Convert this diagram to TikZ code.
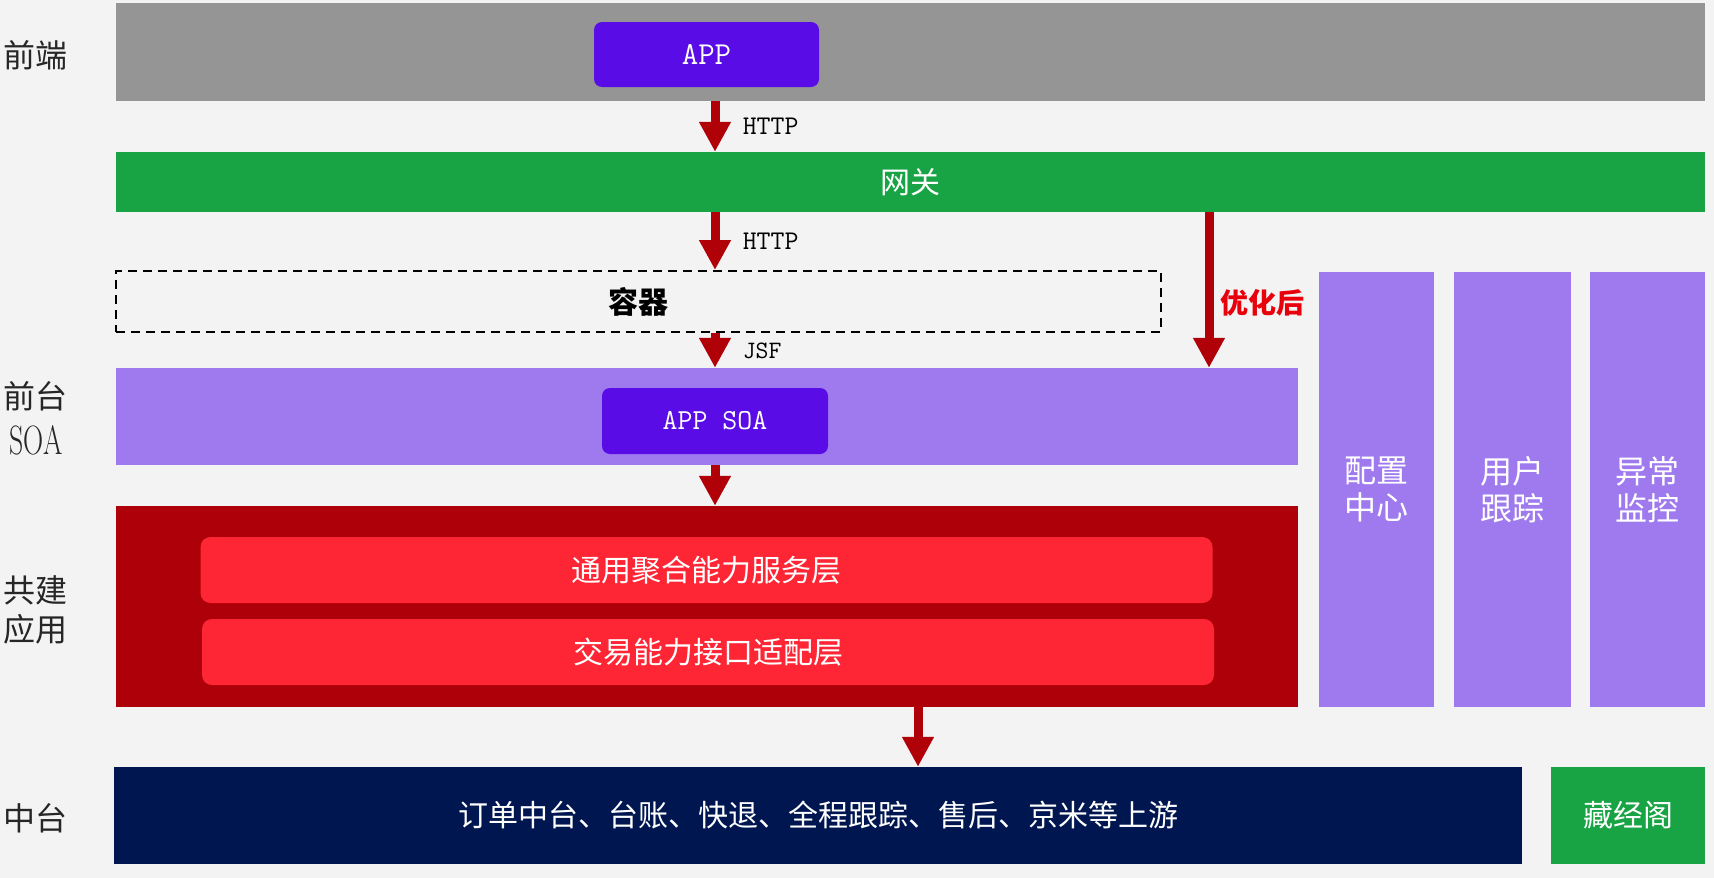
\documentclass[tikz,border=0pt]{standalone}
\usepackage{fontspec}
\newfontfamily\cjk{Noto Sans CJK SC}
\usetikzlibrary{positioning,arrows.meta}

\definecolor{pagebg}{HTML}{F3F3F4}
\definecolor{frontgray}{HTML}{959595}
\definecolor{appviolet}{HTML}{5A0CE6}
\definecolor{gwgreen}{HTML}{18A444}
\definecolor{soapurple}{HTML}{9F7AEE}
\definecolor{sharedred}{HTML}{AE0008}
\definecolor{layerred}{HTML}{FE2634}
\definecolor{midnavy}{HTML}{001650}
\definecolor{arrowred}{HTML}{B00008}
\definecolor{notered}{HTML}{E8000B}

\begin{document}
\begin{tikzpicture}[
      x=1pt, y=-1pt,
      font=\cjk\fontsize{30}{36}\selectfont,
      band/.style={inner sep=0pt, minimum width=#1},
      boxapp/.style={fill=appviolet, rounded corners=8pt, inner sep=0pt,
                     minimum width=225pt, minimum height=65pt, text=white,
                     font=\ttfamily\fontsize{32}{38}\selectfont},
      layer/.style={fill=layerred, rounded corners=10pt, inner sep=0pt,
                    minimum width=1012pt, minimum height=66pt, text=white},
      pillar/.style={fill=soapurple, inner sep=0pt, minimum width=116pt,
                     minimum height=435pt, text=white, align=center,
                     font=\cjk\fontsize{32}{37}\selectfont},
      side/.style={align=center, text=black!85},
      flow/.style={draw=arrowred, line width=9pt,
                   -{Triangle[length=30pt,width=30pt]}},
      lbl/.style={font=\ttfamily\fontsize{27}{32}\selectfont, anchor=west}
    ]
    \fill[pagebg] (0,0) rectangle (1714,878);
    \useasboundingbox (0,0) rectangle (1714,878);

    % layers
    \node[band=1589pt, minimum height=98pt, fill=frontgray] (front) at (910.5,52) {};
    \node[boxapp] (app) at (706.5,54.5) {APP};
    \node[band=1589pt, minimum height=60pt, fill=gwgreen, text=white] (gw) at (910.5,182) {网关};
    \node[band=1045pt, minimum height=61pt, draw, dashed, line width=2pt,
          dash pattern=on 9pt off 6pt, font=\cjk\bfseries\fontsize{30}{36}\selectfont]
          (ctn) at (638.5,301.5) {容器};
    \node[band=1182pt, minimum height=97pt, fill=soapurple] (soa) at (707,416.5) {};
    \node[boxapp, minimum width=226pt, minimum height=66pt,
          font=\ttfamily\fontsize{29}{34}\selectfont] (appsoa) at (715,421) {APP SOA};
    \node[band=1182pt, minimum height=201pt, fill=sharedred] (shared) at (707,606.5) {};
    \node[layer] (agg) at (706.5,570) {通用聚合能力服务层};
    \node[layer] (adapt) at (708,652) {交易能力接口适配层};
    \node[band=1408pt, minimum height=97pt, fill=midnavy, text=white] (mid) at (818,815.5)
          {订单中台、台账、快退、全程跟踪、售后、京米等上游};
    \node[band=154pt, minimum height=97pt, fill=gwgreen, text=white] (cjg) at (1628,815.5) {藏经阁};

    % side pillars
    \node[pillar, minimum width=115pt] (cfg) at (1376.5,489.5) {配置\\中心};
    \node[pillar, minimum width=117pt] (trace) at (1512.5,489.5) {用户\\跟踪};
    \node[pillar, minimum width=115pt] (mon) at (1647.5,489.5) {异常\\监控};

    % row titles
    \node[side, font=\cjk\fontsize{32}{40}\selectfont] (lfront) at (36,55) {前端};
    \node[side, font=\cjk\fontsize{32}{46}\selectfont] (lsoa) at (36,418)
          {前台\\\scalebox{0.68}[1]{\rmfamily\fontsize{41}{46}\selectfont SOA}};
    \node[side, font=\cjk\fontsize{32}{39}\selectfont] (lshared) at (36,610) {共建\\应用};
    \node[side, font=\cjk\fontsize{32}{40}\selectfont] (lmid) at (36,818) {中台};

    % calls
    \coordinate (spine) at (715,0);
    \coordinate (drop) at (918,0);
    \coordinate (bypass) at (1209,0);
    \draw[flow] (spine |- front.south) -- (spine |- gw.north)
          node[midway, lbl, xshift=20pt] {HTTP};
    \draw[flow] (spine |- gw.south) -- (spine |- ctn.north)
          node[midway, lbl, xshift=20pt] {HTTP};
    \draw[flow] (spine |- ctn.south) -- (spine |- soa.north)
          node[midway, lbl, xshift=20pt, font=\ttfamily\fontsize{25}{30}\selectfont] {JSF};
    \draw[flow] (spine |- soa.south) -- (spine |- shared.north);
    \draw[flow] (drop |- shared.south) -- (drop |- mid.north);
    \draw[flow] (bypass |- gw.south) -- (bypass |- soa.north)
          node[pos=0.58, anchor=west, xshift=4pt, text=notered,
               font=\cjk\bfseries\fontsize{28}{34}\selectfont] {优化后};
  \end{tikzpicture}
\end{document}
